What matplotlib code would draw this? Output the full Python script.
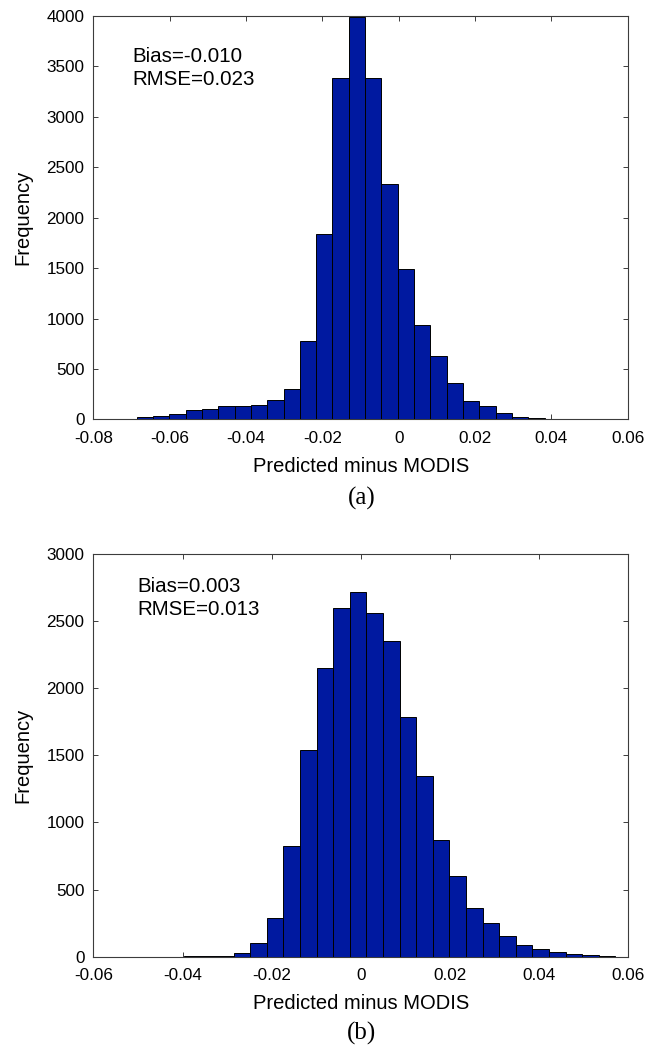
import numpy as np
import matplotlib
matplotlib.use('Agg')
import matplotlib.pyplot as plt

# Histogram counts
counts_a = [4, 4, 20, 33, 53, 97, 103, 133, 133, 145, 187, 297, 777, 1835, 3382,
            3995, 3388, 2337, 1491, 939, 625, 357, 186, 132, 63, 26, 13, 6, 6, 6]
range_a = (-0.0772, 0.0510)
counts_b = [4, 4, 5, 25, 104, 291, 822, 1540, 2149, 2598, 2720, 2559, 2350, 1786,
            1344, 869, 601, 360, 253, 151, 84, 60, 32, 20, 10, 5]
range_b = (-0.0397, 0.0572)

xticks_a = [-0.08, -0.06, -0.04, -0.02, 0, 0.02, 0.04, 0.06]
xlabels_a = ['-0.08', '-0.06', '-0.04', '-0.02', '0', '0.02', '0.04', '0.06']
xticks_b = [-0.06, -0.04, -0.02, 0, 0.02, 0.04, 0.06]
xlabels_b = ['-0.06', '-0.04', '-0.02', '0', '0.02', '0.04', '0.06']
yticks_a = [0, 500, 1000, 1500, 2000, 2500, 3000, 3500, 4000]
yticks_b = [0, 500, 1000, 1500, 2000, 2500, 3000]
stats_a = ['Bias=-0.010', 'RMSE=0.023']
stats_b = ['Bias=0.003', 'RMSE=0.013']

plt.rcParams['font.family'] = ['Liberation Sans', 'DejaVu Sans']
bar_color = '#0019a0'
box_color = '#3c3c3c'

fig = plt.figure(figsize=(6.47, 10.46), dpi=100)
ax_a = fig.add_axes([0.1445, 0.5991, 0.8258, 0.3856])
ax_b = fig.add_axes([0.1445, 0.0855, 0.8258, 0.3846])


def draw_hist(ax, counts, rng, xticks, xlabels, yticks, stats, stat_x, stat_y):
    edges = np.linspace(rng[0], rng[1], len(counts) + 1)
    ax.bar(edges[:-1], counts, width=np.diff(edges), align='edge',
           color=bar_color, edgecolor='black', linewidth=0.7, zorder=3)
    ax.set_xlim(xticks[0], xticks[-1])
    ax.set_ylim(yticks[0], yticks[-1])
    ax.set_xticks(xticks)
    ax.set_xticklabels(xlabels)
    ax.set_yticks(yticks)
    ax.tick_params(direction='in', length=3.6, width=0.7, color=box_color,
                   top=True, right=True, labelsize=12.3)
    ax.tick_params(axis='x', pad=8.5)
    ax.tick_params(axis='y', pad=6.5)
    for s in ax.spines.values():
        s.set_color(box_color)
        s.set_linewidth(0.8)
    ax.set_xlabel('Predicted minus MODIS', fontsize=14.5)
    ax.set_ylabel('Frequency', fontsize=14.5)
    ax.xaxis.set_label_coords(0.5, -0.093)
    ax.yaxis.set_label_coords(-0.115, 0.5)
    for txt, yy in zip(stats, stat_y):
        ax.text(stat_x, yy, txt, transform=ax.transAxes, fontsize=14.8,
                ha='left', va='baseline')


draw_hist(ax_a, counts_a, range_a, xticks_a, xlabels_a, yticks_a, stats_a,
          0.072, [0.885, 0.829])
draw_hist(ax_b, counts_b, range_b, xticks_b, xlabels_b, yticks_b, stats_b,
          0.082, [0.906, 0.848])

fig.text(0.559, 1 - 505 / 1046, '(a)', ha='center', va='baseline',
         fontsize=18, family=['Liberation Serif', 'DejaVu Serif'])
fig.text(0.559, 1 - 1040 / 1046, '(b)', ha='center', va='baseline',
         fontsize=18, family=['Liberation Serif', 'DejaVu Serif'])

fig.savefig('out.png', dpi=100)
